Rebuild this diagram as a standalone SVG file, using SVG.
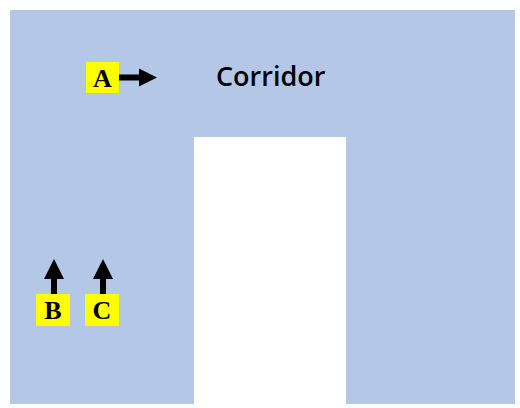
<svg xmlns="http://www.w3.org/2000/svg" width="520" height="408" viewBox="0 0 520 408">
  <style>
    .tag { fill: #ffff00; }
    .tagtxt { font-family: "Liberation Serif", "Times New Roman", serif; font-weight: bold; font-size: 26px; fill: #000; text-anchor: middle; }
    .title { font-family: "Open Sans", "Noto Sans", sans-serif; font-weight: 600; font-size: 27px; fill: #000; }
    .arrow { fill: #000; }
  </style>
  <rect width="520" height="408" fill="#ffffff"/>
  <g id="floor">
    <rect x="10" y="10" width="505" height="394" fill="#b4c7e7"/>
  </g>
  <g id="wall">
    <rect x="194" y="137" width="152" height="271" fill="#ffffff"/>
  </g>
  <g id="corridor-label">
    <text class="title" x="216" y="86">Corridor</text>
  </g>
  <g id="connectors">
    <polygon class="arrow" points="119,74.5 139,74.5 139,68.5 157,77.5 139,86.5 139,80.5 119,80.5"/>
    <polygon class="arrow" points="51,294 51,279 44,279 54,259 64,279 57,279 57,294"/>
    <polygon class="arrow" points="100,294 100,279 93,279 103,259 113,279 106,279 106,294"/>
  </g>
  <g id="tag-A">
    <rect class="tag" x="86" y="62" width="33" height="31"/>
    <text class="tagtxt" x="102.5" y="87">A</text>
  </g>
  <g id="tag-B">
    <rect class="tag" x="36" y="294" width="34" height="32"/>
    <text class="tagtxt" x="53" y="319">B</text>
  </g>
  <g id="tag-C">
    <rect class="tag" x="85" y="294" width="34" height="32"/>
    <text class="tagtxt" x="102" y="319">C</text>
  </g>
</svg>
